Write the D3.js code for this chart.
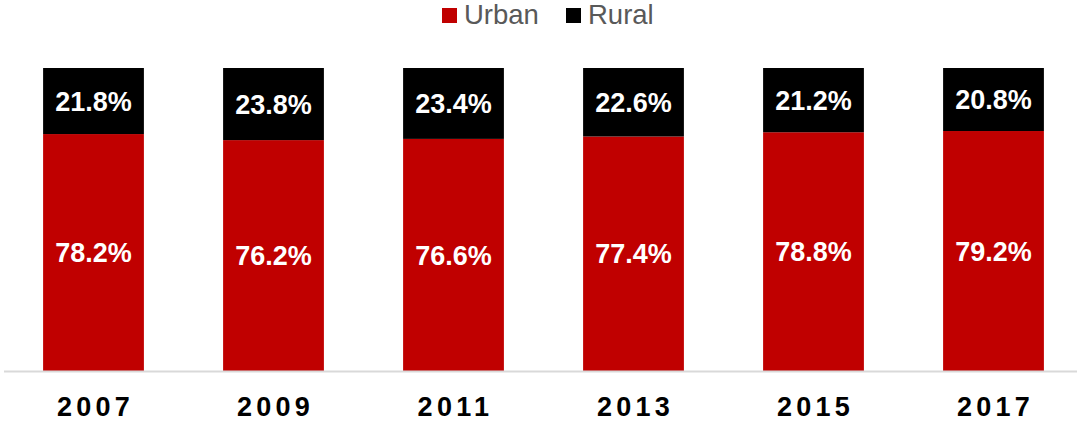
<!DOCTYPE html>
<html>
<head>
<meta charset="utf-8">
<title>Urban vs Rural share</title>
<script src="https://cdn.jsdelivr.net/npm/d3@7"></script>
<style>
  body { margin: 0; background: #fff; }
  text { font-family: "Liberation Sans", Arial, sans-serif; }
</style>
</head>
<body>
<script>
  // data
  var years = ["2007", "2009", "2011", "2013", "2015", "2017"];
  var urban = [78.2, 76.2, 76.6, 77.4, 78.8, 79.2];
  var rural = [21.8, 23.8, 23.4, 22.6, 21.2, 20.8];
  var seriesNames = ["Urban", "Rural"];
  var seriesColors = ["#c00000", "#000000"];

  var width = 1081, height = 424;
  var plotTop = 68, base = 371;

  var svg = d3.select("body").append("svg")
      .attr("width", width)
      .attr("height", height);

  var x = d3.scaleBand()
      .domain(years)
      .range([3.5, 1083.5])
      .paddingInner(0.44)
      .paddingOuter(0.22);

  var y = d3.scaleLinear()
      .domain([0, 100])
      .range([base, plotTop]);

  var rows = years.map(function(yr, i) {
    return { year: yr, Urban: urban[i], Rural: rural[i] };
  });
  var stack = d3.stack().keys(seriesNames)(rows);

  var layers = svg.selectAll("g.layer")
      .data(stack)
      .enter().append("g")
      .attr("class", "layer")
      .attr("fill", function(d, i) { return seriesColors[i]; });

  layers.selectAll("rect")
      .data(function(d) { return d; })
      .enter().append("rect")
      .attr("x", function(d) { return x(d.data.year); })
      .attr("y", function(d) { return y(d[1]); })
      .attr("width", x.bandwidth())
      .attr("height", function(d) { return y(d[0]) - y(d[1]); });

  // value labels, centred in each segment
  var fs = 27;
  layers.selectAll("text")
      .data(function(d) { return d; })
      .enter().append("text")
      .attr("x", function(d) { return x(d.data.year) + x.bandwidth() / 2; })
      .attr("y", function(d) { return (y(d[0]) + y(d[1])) / 2 + fs * 0.36; })
      .attr("text-anchor", "middle")
      .attr("fill", "#fff")
      .attr("font-weight", "bold")
      .attr("font-size", fs + "px")
      .text(function(d) { return (d[1] - d[0]).toFixed(1) + "%"; });

  // x axis
  var xAxis = svg.append("g")
      .attr("transform", "translate(0," + base + ")")
      .call(d3.axisBottom(x).tickSize(0).tickPadding(0));
  xAxis.select(".domain")
      .attr("d", "M4,0.5H1077")
      .attr("stroke", "#d9d9d9")
      .attr("stroke-width", 2);
  xAxis.selectAll(".tick text")
      .attr("y", 45)
      .attr("dy", 0)
      .attr("dx", "2px")
      .attr("fill", "#000")
      .attr("font-size", "27px")
      .attr("font-weight", "bold")
      .attr("font-family", "Liberation Sans, Arial, sans-serif")
      .style("letter-spacing", "4.3px");

  // legend
  var legendPos = [442, 566];
  var legend = svg.selectAll("g.legend")
      .data(seriesNames)
      .enter().append("g")
      .attr("class", "legend")
      .attr("transform", function(d, i) { return "translate(" + legendPos[i] + ",0)"; });
  legend.append("rect")
      .attr("x", 0).attr("y", 8)
      .attr("width", 15).attr("height", 15)
      .attr("fill", function(d, i) { return seriesColors[i]; });
  legend.append("text")
      .attr("x", 22).attr("y", 24)
      .attr("fill", "#595959")
      .attr("font-size", "27.5px")
      .text(function(d) { return d; });
</script>
</body>
</html>
